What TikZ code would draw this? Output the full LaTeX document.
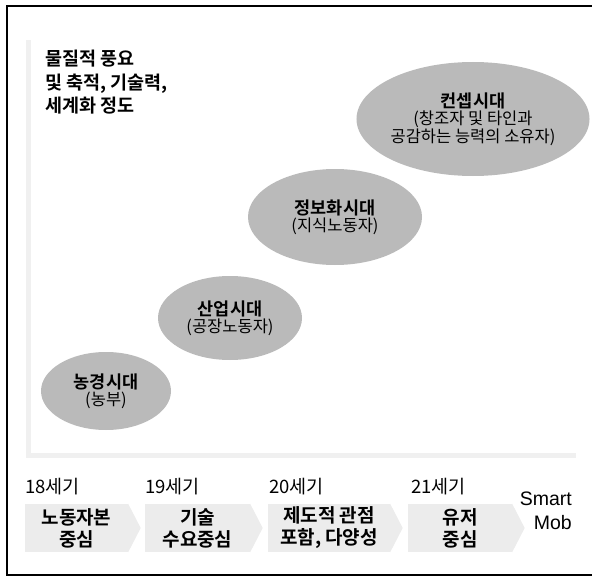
\documentclass[tikz,border=0pt]{standalone}
\usepackage{fontspec}
\setmainfont{Noto Sans CJK KR}
\newfontfamily\krb{Noto Sans CJK KR Bold}
\newfontfamily\latn{Liberation Sans}
\usetikzlibrary{shapes.geometric}
\definecolor{ellgray}{gray}{0.73}
\definecolor{chevgray}{gray}{0.925}
\definecolor{axisgray}{gray}{0.94}
\tikzset{
  era/.style={ellipse, fill=ellgray, inner sep=0pt, align=center, text=black},
  chev/.style={fill=chevgray, minimum height=48pt, inner sep=0pt, align=center,
    font=\krb\fontsize{19}{22}\selectfont},
  century/.style={anchor=west, inner sep=0pt, font=\fontsize{18.5}{20}\selectfont},
  axisbar/.style={draw=axisgray, line width=5pt},
}
\newcommand{\ttl}[1]{{\krb\fontsize{17.5}{21}\selectfont #1}}
\newcommand{\sbt}[1]{{\fontsize{16.5}{17.5}\selectfont #1}}
\begin{document}
\begin{tikzpicture}[x=1pt,y=-1pt]
\useasboundingbox (0,0) rectangle (592,578);
% frame
\draw[line width=1.6pt] (592,6) -- (7,6) -- (7,575) -- (592,575);
% axes
\draw[axisbar] (28,40) -- (28,455);
\draw[axisbar] (26,455) -- (576,455);
% y-axis caption
\node[anchor=north west, align=left, inner sep=0pt, font=\krb\fontsize{18.5}{23.5}\selectfont]
  (ycap) at (45,50) {물질적 풍요\\및 축적, 기술력,\\세계화 정도};
% eras
\node[era, minimum width=208pt, minimum height=114pt] (e4) at (473,119)
  {\ttl{컨셉시대}\\[1pt]\sbt{(창조자 및 타인과}\\\sbt{공감하는 능력의 소유자)}};
\node[era, minimum width=174pt, minimum height=96pt] (e3) at (335,217)
  {\ttl{정보화시대}\\[1pt]\sbt{(지식노동자)}};
\node[era, minimum width=144pt, minimum height=84pt] (e2) at (230,318)
  {\ttl{산업시대}\\[1pt]\sbt{(공장노동자)}};
\node[era, minimum width=130pt, minimum height=78pt] (e1) at (106,391)
  {\ttl{농경시대}\\[1pt]\sbt{(농부)}};
% centuries
\node[century] (k18) at (25,487) {18세기};
\node[century] (k19) at (145,487) {19세기};
\node[century] (k20) at (269,487) {20세기};
\node[century] (k21) at (411,487) {21세기};
% chevrons
\node[chev, minimum width=103pt] (c1) at (76.5,528) {노동자본\\중심};
\node[chev, minimum width=105pt] (c2) at (197.5,528) {기술\\수요중심};
\node[chev, minimum width=122pt] (c3) at (329,528) {제도적 관점\\포함, 다양성};
\node[chev, minimum width=104pt] (c4) at (460,528) {유저\\중심};
\foreach \c in {c1,c2,c3,c4}{
  \fill[chevgray] (\c.north east) -- ([xshift=12.5pt]\c.east) -- (\c.south east) -- cycle;
}
\node[anchor=east, align=right, inner sep=0pt, font=\latn\fontsize{19.5}{24.5}\selectfont]
  (smart) at (572,511) {Smart\\Mob};
\end{tikzpicture}
\end{document}
